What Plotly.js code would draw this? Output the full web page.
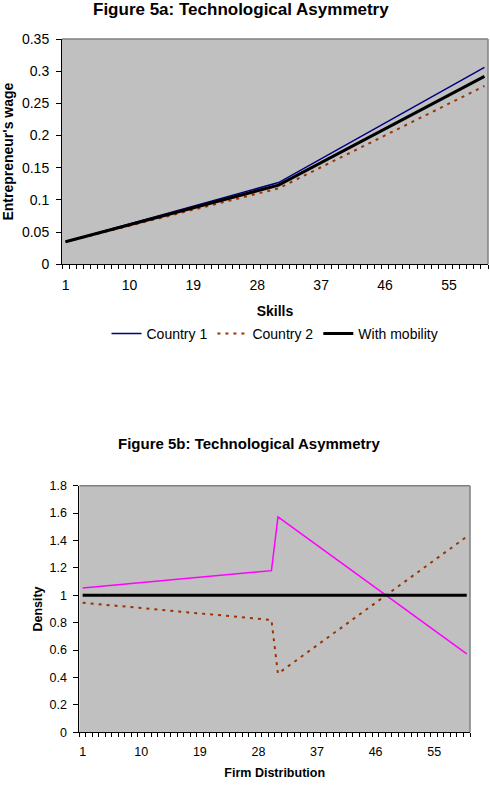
<!DOCTYPE html>
<html>
<head>
<meta charset="utf-8">
<script src="https://cdn.plot.ly/plotly-3.0.1.min.js"></script>
<style>
  html, body { margin: 0; padding: 0; background: #ffffff; }
  #chart { width: 490px; height: 801px; }
</style>
</head>
<body>
<div id="chart"></div>
<script>
// Figure 5a: entrepreneur's wage by skill level (breakpoints of each line)
const skills = [1, 31, 60];
const wageCountry1 = [0.035, 0.127, 0.306];
const wageCountry2 = [0.035, 0.118, 0.277];
const wageMobility = [0.035, 0.123, 0.292];

// Figure 5b: firm density across the distribution
const firms = [1, 30, 31, 60];
const densityCountry1 = [1.054, 1.18, 1.572, 0.572];
const densityCountry2 = [0.946, 0.82, 0.428, 1.428];
const firmsMobility = [1, 60];
const densityMobility = [1, 1];

// Category tick labels shown on both horizontal axes
const categoryTicks = [1, 10, 19, 28, 37, 46, 55];

const FONT = 'Liberation Sans, Arial, sans-serif';
const W = 490, H = 801;
const px = v => v / W;          // horizontal pixel -> paper fraction
const py = v => 1 - v / H;      // vertical pixel -> paper fraction

const BROWN = '#993300';
const DOTS = '3px,5px';

const traces = [
  { x: skills, y: wageCountry1, xaxis: 'x', yaxis: 'y', type: 'scatter', mode: 'lines',
    name: 'Country 1', line: { color: '#000080', width: 1.5 } },
  { x: skills, y: wageCountry2, xaxis: 'x', yaxis: 'y', type: 'scatter', mode: 'lines',
    name: 'Country 2', line: { color: BROWN, width: 2, dash: DOTS } },
  { x: skills, y: wageMobility, xaxis: 'x', yaxis: 'y', type: 'scatter', mode: 'lines',
    name: 'With mobility', line: { color: '#000000', width: 3 } },

  { x: firms, y: densityCountry1, xaxis: 'x2', yaxis: 'y2', type: 'scatter', mode: 'lines',
    name: 'Country 1', showlegend: false, line: { color: '#FF00FF', width: 1.5 } },
  { x: firms, y: densityCountry2, xaxis: 'x2', yaxis: 'y2', type: 'scatter', mode: 'lines',
    name: 'Country 2', showlegend: false, line: { color: BROWN, width: 2, dash: DOTS } },
  { x: firmsMobility, y: densityMobility, xaxis: 'x2', yaxis: 'y2', type: 'scatter', mode: 'lines',
    name: 'With mobility', showlegend: false, line: { color: '#000000', width: 3 } }
];

function catAxis(domain, anchor, title, titleSize, tickSize, standoff) {
  return {
    domain: domain, anchor: anchor, range: [0.5, 60.5],
    tickmode: 'array', tickvals: categoryTicks, ticktext: categoryTicks.map(String),
    ticks: '', showgrid: false, zeroline: false,
    showline: true, linecolor: '#000000', linewidth: 1,
    tickfont: { family: FONT, size: tickSize, color: '#000' },
    ticklabelstandoff: 8,
    minor: { tickmode: 'linear', tick0: 0.5, dtick: 1, ticks: 'outside', ticklen: 4,
             tickcolor: '#000000', tickwidth: 1, showgrid: false },
    title: { text: title, standoff: standoff,
             font: { family: FONT, size: titleSize, weight: 'bold', color: '#000' } },
    fixedrange: true
  };
}

function valAxis(domain, anchor, range, dtick, title, titleSize, tickSize, standoff) {
  return {
    domain: domain, anchor: anchor, range: range, tickmode: 'linear', tick0: 0, dtick: dtick,
    ticks: 'outside', ticklen: 5, tickcolor: '#000000', tickwidth: 1,
    showgrid: false, zeroline: false,
    showline: true, linecolor: '#000000', linewidth: 1,
    tickfont: { family: FONT, size: tickSize, color: '#000' },
    ticklabelstandoff: 4,
    title: { text: title, standoff: standoff,
             font: { family: FONT, size: titleSize, weight: 'bold', color: '#000' } },
    fixedrange: true
  };
}

// plot areas in pixels
const A = { l: 62, r: 488, t: 39, b: 264.3 };
const B = { l: 79.4, r: 470, t: 485.7, b: 732.3 };

const borderLine = { color: '#808080', width: 1.5 };

const layout = {
  width: W, height: H,
  margin: { l: 0, r: 0, t: 0, b: 0 },
  paper_bgcolor: '#ffffff',
  plot_bgcolor: '#C0C0C0',
  font: { family: FONT, color: '#000' },
  showlegend: true,
  legend: {
    orientation: 'h', x: px(275), xanchor: 'center', y: py(334), yanchor: 'middle',
    font: { family: FONT, size: 14, color: '#000' }, bgcolor: 'rgba(0,0,0,0)',
    itemwidth: 30, tracegroupgap: 0
  },
  xaxis: catAxis([px(A.l), px(A.r)], 'y', 'Skills', 14, 14, 14),
  yaxis: valAxis([py(A.b), py(A.t)], 'x', [0, 0.35], 0.05, "Entrepreneur's wage", 14, 14, 8),
  xaxis2: catAxis([px(B.l), px(B.r)], 'y2', 'Firm Distribution', 12.5, 12.5, 9),
  yaxis2: valAxis([py(B.b), py(B.t)], 'x2', [0, 1.8], 0.2, 'Density', 12.5, 12.5, 4),
  shapes: [
    { type: 'line', xref: 'paper', yref: 'paper', x0: px(A.l), x1: px(A.r), y0: py(A.t), y1: py(A.t), line: borderLine },
    { type: 'line', xref: 'paper', yref: 'paper', x0: px(A.r), x1: px(A.r), y0: py(A.t), y1: py(A.b), line: borderLine },
    { type: 'line', xref: 'paper', yref: 'paper', x0: px(B.l), x1: px(B.r), y0: py(B.t), y1: py(B.t), line: borderLine },
    { type: 'line', xref: 'paper', yref: 'paper', x0: px(B.r), x1: px(B.r), y0: py(B.t), y1: py(B.b), line: borderLine }
  ],
  annotations: [
    { text: 'Figure 5a: Technological Asymmetry', xref: 'paper', yref: 'paper',
      x: px(241), y: py(9), xanchor: 'center', yanchor: 'middle', showarrow: false,
      font: { family: FONT, size: 17, weight: 'bold', color: '#000' } },
    { text: 'Figure 5b: Technological Asymmetry', xref: 'paper', yref: 'paper',
      x: px(249), y: py(443), xanchor: 'center', yanchor: 'middle', showarrow: false,
      font: { family: FONT, size: 15, weight: 'bold', color: '#000' } }
  ]
};

Plotly.newPlot('chart', traces, layout, { staticPlot: true, displayModeBar: false });
</script>
</body>
</html>
